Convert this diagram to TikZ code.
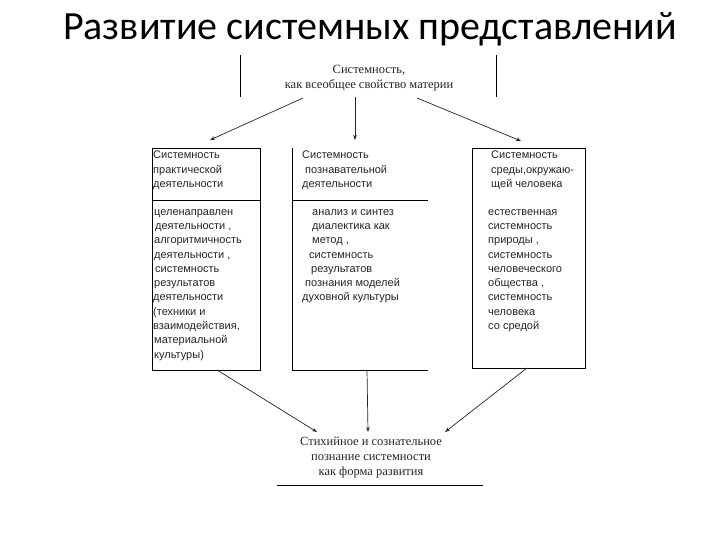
\documentclass[tikz,border=0pt]{standalone}
\usepackage{fontspec}
\setmainfont{Liberation Serif}
\newfontfamily\boxfont{Liberation Sans}
\newfontfamily\titlefont{Carlito}
\usetikzlibrary{arrows.meta}
\tikzset{
  conn/.style={line width=0.7pt, draw=black!85, -{Stealth[length=5pt,width=3.6pt]}},
  frame/.style={line width=0.8pt, draw=black},
  boxtext/.style={anchor=north west, inner sep=0pt, align=left, text=black!85,
    font=\boxfont\fontsize{11}{14.3}\selectfont},
  serftext/.style={inner sep=0pt, align=center, text=black!85,
    font=\fontsize{12.5}{15}\selectfont},
  boxframe/.style={draw, line width=0.8pt, anchor=north west, inner sep=0pt}
}
\begin{document}
\begin{tikzpicture}[x=1pt,y=-1pt]
\useasboundingbox[fill=white] (0,0) rectangle (720,540);

% title
\node[font=\titlefont\fontsize{40}{44}\selectfont, inner sep=0pt] (title) at (370,29) {Развитие системных представлений};

% top
\draw[frame] (240,55) -- (240,97);
\draw[frame] (496,55) -- (496,97);
\node[serftext] (top) at (369,78) {Системность,\\как всеобщее свойство материи};
\coordinate (tl) at (303,98);
\coordinate (tc) at (355,97);
\coordinate (tr) at (417,98);

% left box
\node[boxframe, minimum width=108pt, minimum height=222pt] (lbox) at (152,148) {};
\draw[frame] (152,200) -- (260,200);
\node[boxtext] (lhead) at (153,151) {Системность\\практической\\деятельности};
\node[boxtext] (lbody) at (153,209) {\hspace*{1pt}целенаправлен\\\hspace*{2pt}деятельности ,\\\hspace*{1pt}алгоритмичность\\\hspace*{1pt}деятельности ,\\\hspace*{2pt}системность\\\hspace*{1pt}результатов\\деятельности\\(техники и\\взаимодействия,\\\hspace*{1pt}материальной\\\hspace*{1pt}культуры)};

% middle box (open)
\draw[frame] (292,148) -- (292,370) -- (428,370);
\draw[frame] (292,200) -- (428,200);
\coordinate (mbot) at (367,370);
\node[boxtext] (mhead) at (302,151) {Системность\\\hspace*{3pt}познавательной\\деятельности};
\node[boxtext] (mbody) at (302,209) {\hspace*{10pt}анализ и синтез\\\hspace*{10pt}диалектика как\\\hspace*{10pt}метод ,\\\hspace*{7pt}системность\\\hspace*{9pt}результатов\\\hspace*{3pt}познания моделей\\духовной культуры};

% right box
\node[boxframe, minimum width=113pt, minimum height=220pt] (rbox) at (472,148) {};
\node[boxtext] (rhead) at (491,151) {Системность\\среды,окружаю-\\щей человека};
\node[boxtext] (rbody) at (488,209) {естественная\\системность\\природы ,\\системность\\человеческого\\общества ,\\системность\\человека\\со средой};

% bottom
\node[serftext] (bot) at (371,458) {Стихийное и сознательное\\познание системности\\как форма развития};
\coordinate (bl) at (277,485);
\coordinate (br) at (483,485);
\draw[frame] (bl) -- (br);
\coordinate (bal) at (317,432);
\coordinate (bac) at (368,432);
\coordinate (bar) at (445,432);
\coordinate (lsrc) at (217,370);
\coordinate (rsrc) at (527,368);
\coordinate (atl) at (210,140);
\coordinate (atc) at (355,140);
\coordinate (atr) at (521,141);

% connectors
\draw[conn] (tl) -- (atl);
\draw[conn] (tc) -- (atc);
\draw[conn] (tr) -- (atr);
\draw[conn] (lsrc) -- (bal);
\draw[conn] (mbot) -- (bac);
\draw[conn] (rsrc) -- (bar);
\end{tikzpicture}
\end{document}
